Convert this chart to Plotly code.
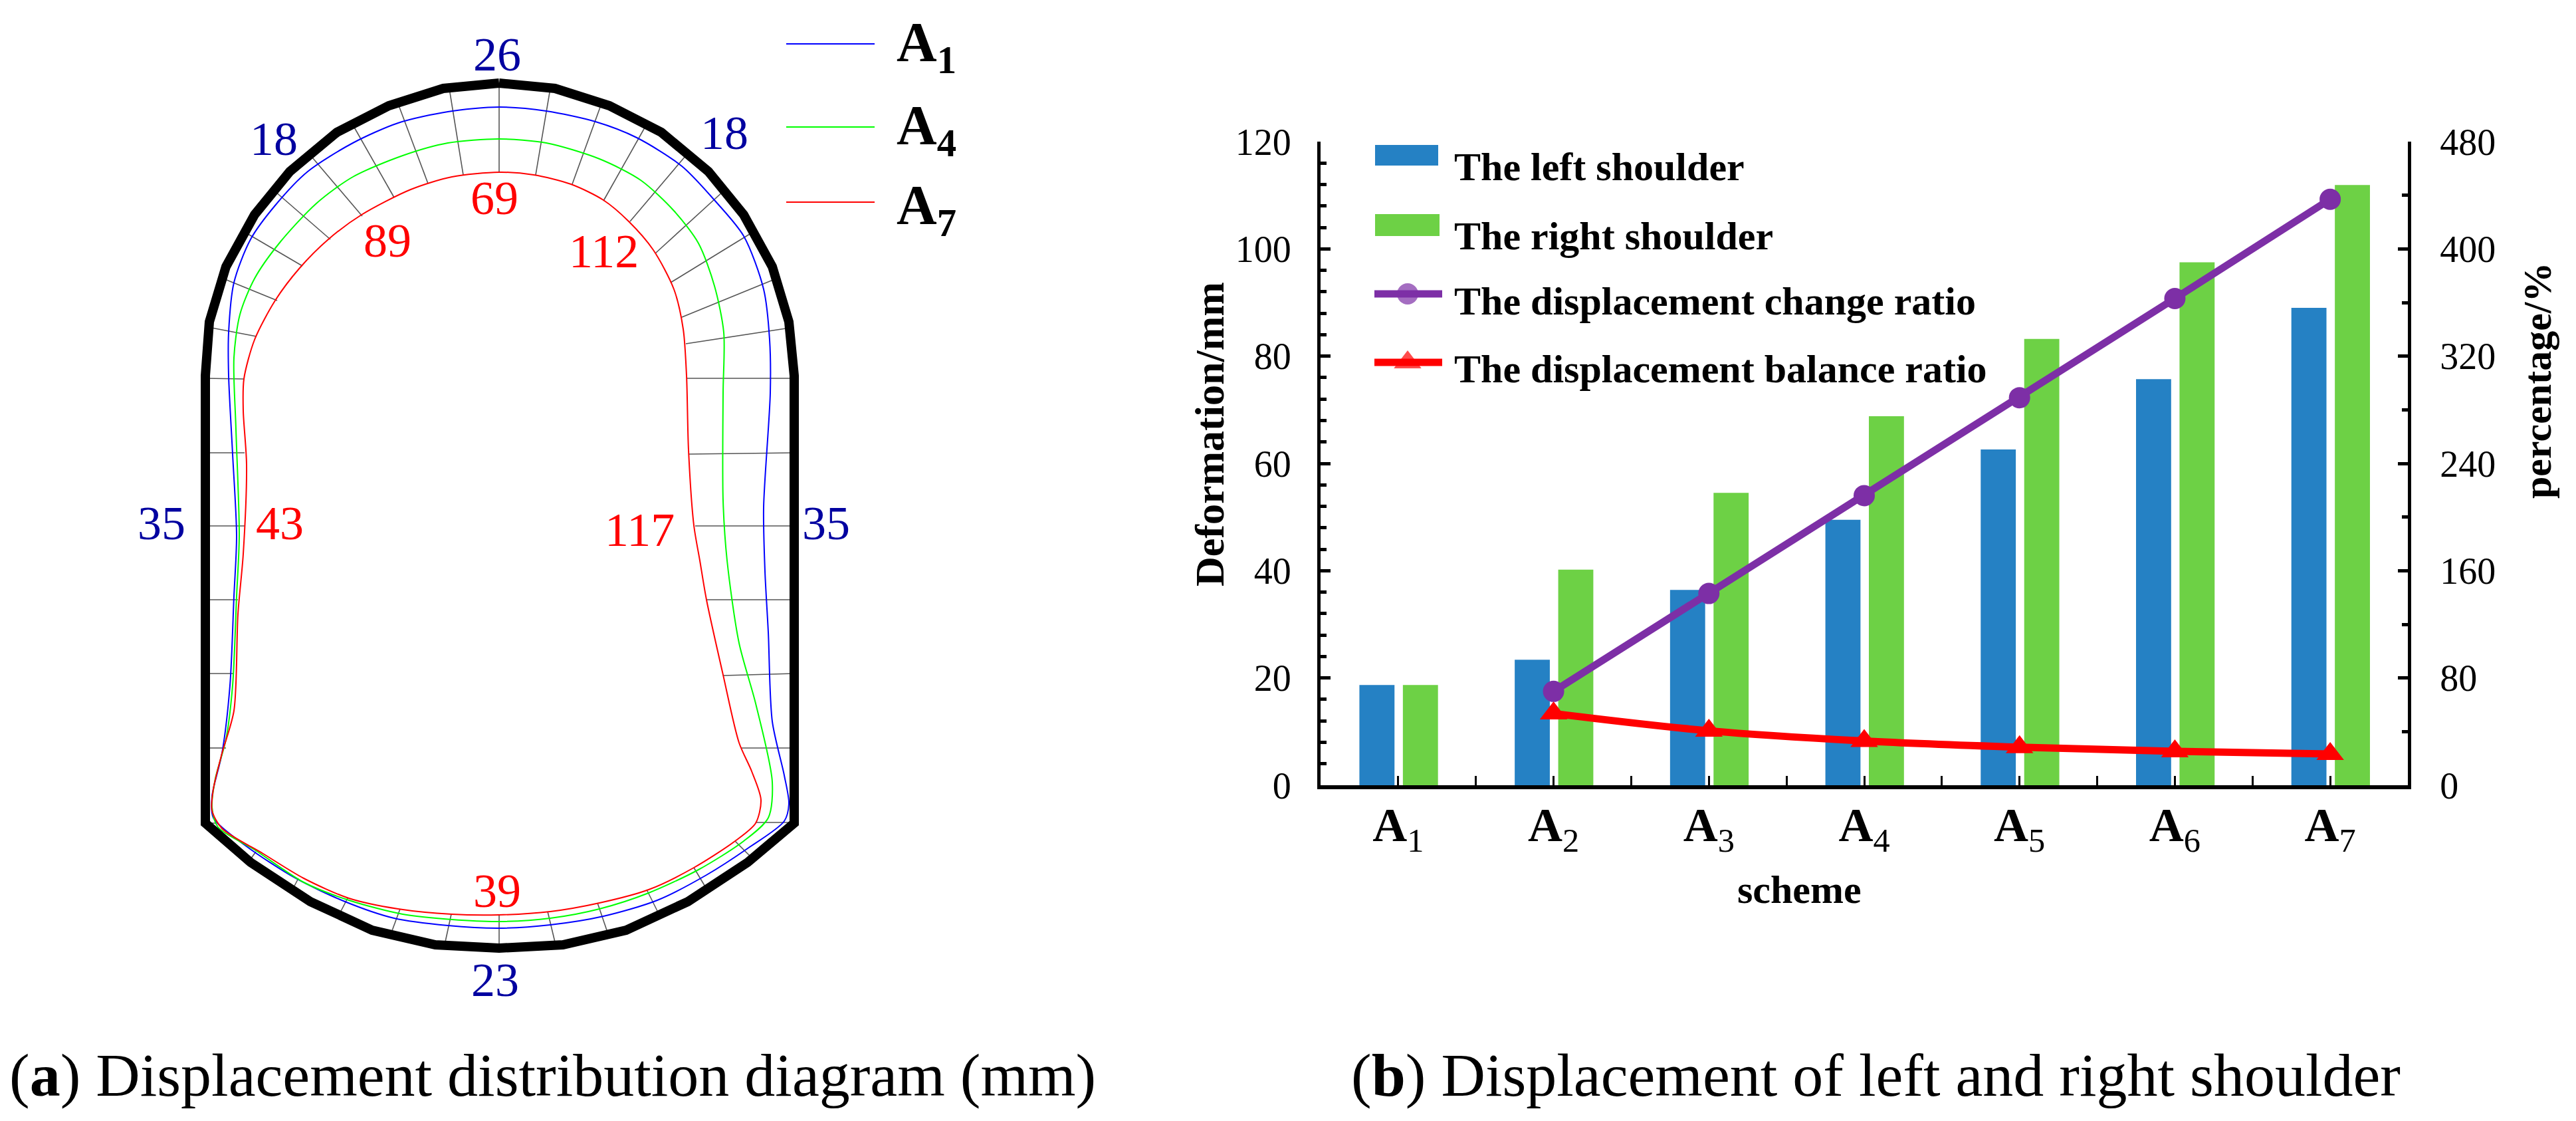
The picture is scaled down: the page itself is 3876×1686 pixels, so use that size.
import plotly.graph_objects as go

# ---------- panel (b) data ----------
schemes = ["1", "2", "3", "4", "5", "6", "7"]
left_shoulder = [18.7, 23.4, 36.4, 49.5, 62.6, 75.7, 89.0]
right_shoulder = [18.7, 40.2, 54.5, 68.8, 83.2, 97.5, 111.9]
change_ratio = [None, 70, 143, 216, 289, 363, 437]
balance_ratio = [None, 53.5, 40.6, 33.0, 28.4, 25.3, 23.3]

# ---------- panel (a) data: tunnel section ----------
outer_x = [751, 667, 585, 507, 436, 383, 340, 315, 309, 309, 377, 467, 560, 655, 751,
           847, 942, 1035, 1125, 1195, 1195, 1187, 1162, 1119, 1066, 995, 917, 835, 751]
outer_y = [125, 133, 159, 199, 258, 323, 401, 484, 565, 1238, 1297, 1356, 1399, 1421, 1426,
           1421, 1399, 1356, 1297, 1238, 565, 484, 401, 323, 258, 199, 159, 133, 125]

a1_x = [751, 674, 599, 531, 463, 414, 377, 352, 344, 344, 350, 356, 352, 346, 334, 319, 321, 371, 445, 519, 593, 674, 751,
        828, 908, 989, 1063, 1125, 1180, 1187, 1180, 1162, 1156, 1151, 1149, 1159, 1158, 1149, 1119, 1075, 1026, 958, 896, 822, 751]
a1_y = [161, 168, 185, 215, 258, 309, 360, 425, 500, 565, 683, 806, 897, 1031, 1133, 1198, 1230, 1273, 1321, 1356, 1381, 1392, 1396,
        1391, 1378, 1354, 1316, 1276, 1235, 1209, 1166, 1085, 951, 859, 763, 591, 511, 435, 355, 301, 250, 207, 183, 167, 161]

a4_x = [751, 674, 606, 531, 476, 420, 383, 361, 352, 355, 360, 356, 350, 340, 324, 319, 328, 383, 457, 525, 606, 680, 751,
        828, 902, 976, 1051, 1119, 1156, 1162, 1137, 1112, 1094, 1088, 1088, 1089, 1075, 1051, 1014, 964, 902, 822, 751]
a4_y = [209, 215, 234, 266, 306, 366, 419, 473, 538, 645, 806, 897, 1031, 1112, 1171, 1214, 1244, 1278, 1327, 1354, 1375, 1383, 1386,
        1381, 1367, 1343, 1308, 1265, 1230, 1176, 1058, 967, 843, 753, 591, 500, 430, 366, 317, 271, 239, 215, 209]

a7_x = [751, 680, 618, 544, 494, 451, 414, 383, 367, 366, 371, 366, 358, 352, 334, 321, 319, 334, 396, 457, 525, 599, 680, 751,
        828, 902, 976, 1044, 1106, 1137, 1145, 1131, 1112, 1088, 1063, 1053, 1044, 1036, 1033, 1028, 1014, 983, 946, 908, 859, 803, 751]
a7_y = [259, 266, 285, 323, 360, 403, 452, 511, 570, 618, 699, 833, 924, 1069, 1133, 1187, 1219, 1246, 1284, 1321, 1351, 1367, 1375, 1376,
        1371, 1358, 1338, 1305, 1265, 1238, 1203, 1160, 1117, 1015, 902, 843, 790, 677, 565, 495, 435, 376, 333, 301, 277, 263, 259]

spokes = [
    (751, 125, 751, 259), (676, 133, 697, 263), (599, 156, 644, 276), (531, 188, 593, 297),
    (470, 237, 545, 325), (414, 288, 497, 360), (368, 349, 455, 400), (336, 419, 417, 452),
    (313, 492, 386, 506), (309, 569, 368, 570), (309, 681, 368, 681), (309, 791, 368, 791),
    (309, 902, 358, 902), (309, 1013, 352, 1013), (309, 1125, 340, 1125), (309, 1238, 324, 1238),
    (377, 1292, 385, 1281), (439, 1340, 449, 1321), (510, 1376, 523, 1351), (588, 1405, 602, 1367),
    (669, 1421, 679, 1375), (751, 1426, 751, 1376), (836, 1421, 824, 1371), (915, 1405, 899, 1358),
    (992, 1376, 973, 1338), (1065, 1340, 1044, 1305), (1133, 1292, 1106, 1265), (1195, 1237, 1137, 1237),
    (1195, 1125, 1115, 1125), (1195, 1013, 1088, 1016), (1195, 902, 1063, 902), (1195, 791, 1046, 791),
    (1195, 681, 1036, 683), (1195, 569, 1033, 569), (1189, 493, 1032, 517), (1168, 419, 1026, 477),
    (1133, 349, 1009, 425), (1088, 288, 986, 381), (1032, 234, 948, 333), (974, 185, 908, 302),
    (906, 153, 861, 277), (828, 133, 806, 263),
]

blue_labels = [("26", 748, 82), ("18", 412, 209), ("18", 1090, 200), ("35", 243, 787), ("35", 1243, 787), ("23", 745, 1474)]
red_labels = [("69", 744, 298), ("89", 583, 362), ("112", 908, 378), ("43", 421, 787), ("117", 962, 797), ("39", 748, 1340)]

SERIF = "Liberation Serif"
W, H = 3876, 1686
BLUE_BAR, GREEN_BAR, PURPLE, RED = "#2581C4", "#6DD145", "#7D2FA6", "#FF0000"

fig = go.Figure()

# panel (a)
sx, sy = [], []
for x0, y0, x1, y1 in spokes:
    sx += [x0, x1, None]
    sy += [y0, y1, None]
fig.add_trace(go.Scatter(x=sx, y=sy, mode="lines", line=dict(color="#555555", width=1.6), showlegend=False, xaxis="x", yaxis="y"))
for name, xs, ys, col in [("A1", a1_x, a1_y, "#0000FF"), ("A4", a4_x, a4_y, "#00FF00"), ("A7", a7_x, a7_y, "#FF0000")]:
    fig.add_trace(go.Scatter(x=xs, y=ys, mode="lines", name=name, line=dict(color=col, width=2, shape="spline", smoothing=0.8),
                             showlegend=False, xaxis="x", yaxis="y"))
fig.add_trace(go.Scatter(x=outer_x, y=outer_y, mode="lines", line=dict(color="#000000", width=14), showlegend=False, xaxis="x", yaxis="y"))

# panel (a) key
for ky, col, sub, ty in [(66, "#0000FF", "1", 70), (191, "#00FF00", "4", 195), (304, "#FF0000", "7", 315)]:
    fig.add_trace(go.Scatter(x=[1183, 1316], y=[ky, ky], mode="lines", line=dict(color=col, width=2), showlegend=False, xaxis="x", yaxis="y"))
    fig.add_annotation(x=1347, y=ty, xref="x", yref="y", text=f"<b>A<sub>{sub}</sub></b>", showarrow=False,
                       xanchor="left", yanchor="middle", font=dict(family=SERIF, size=84, color="#000000"))

annotations_text = [(t, x, y, "#0000A0") for t, x, y in blue_labels] + [(t, x, y, "#FF0000") for t, x, y in red_labels]
for t, x, y, col in annotations_text:
    fig.add_annotation(x=x, y=y, xref="x", yref="y", text=t, showarrow=False, font=dict(family=SERIF, size=72, color=col))

# panel (b)
xs = list(range(len(schemes)))
fig.add_trace(go.Bar(x=xs, y=left_shoulder, name="The left shoulder", marker=dict(color=BLUE_BAR, line=dict(width=0)),
                     width=0.226, offset=-0.25, xaxis="x2", yaxis="y2", showlegend=False))
fig.add_trace(go.Bar(x=xs, y=right_shoulder, name="The right shoulder", marker=dict(color=GREEN_BAR, line=dict(width=0)),
                     width=0.226, offset=0.03, xaxis="x2", yaxis="y2", showlegend=False))
fig.add_trace(go.Scatter(x=xs, y=change_ratio, name="The displacement change ratio", mode="lines+markers",
                         line=dict(color=PURPLE, width=11), marker=dict(symbol="circle", size=32, color=PURPLE),
                         xaxis="x2", yaxis="y3", showlegend=False))
fig.add_trace(go.Scatter(x=xs, y=balance_ratio, name="The displacement balance ratio", mode="lines+markers",
                         line=dict(color=RED, width=11, shape="spline"), marker=dict(symbol="triangle-up", size=36, color=RED),
                         xaxis="x2", yaxis="y3", showlegend=False))

# panel (b) key
for (x0, x1, y0, y1, col) in [(2069, 2164, 218, 249, BLUE_BAR), (2069, 2166, 322, 355, GREEN_BAR)]:
    fig.add_shape(type="rect", xref="x", yref="y", x0=x0, x1=x1, y0=y0, y1=y1, fillcolor=col, line=dict(width=0), layer="above")
for ky, col, sym, ms in [(442, PURPLE, "circle", 32), (545, RED, "triangle-up", 36)]:
    fig.add_trace(go.Scatter(x=[2068, 2118, 2170], y=[ky] * 3, mode="lines+markers", line=dict(color=col, width=11),
                             marker=dict(symbol=sym, size=[0, ms, 0], color=col, line=dict(width=0)),
                             showlegend=False, xaxis="x", yaxis="y"))
for txt, ty in [("The left shoulder", 251), ("The right shoulder", 355), ("The displacement change ratio", 453), ("The displacement balance ratio", 555)]:
    fig.add_annotation(x=2186, y=ty, xref="x", yref="y", text=f"<b>{txt}</b>", showarrow=False, xanchor="left",
                       font=dict(family=SERIF, size=60, color="#000000"))

# axis titles
fig.add_annotation(x=2707, y=1338, xref="x", yref="y", text="<b>scheme</b>", showarrow=False, font=dict(family=SERIF, size=60, color="#000"))
fig.add_annotation(x=1820, y=653, xref="x", yref="y", text="<b>Deformation/mm</b>", textangle=-90, showarrow=False, font=dict(family=SERIF, size=62, color="#000"))
fig.add_annotation(x=3818, y=573, xref="x", yref="y", text="<b>percentage/%</b>", textangle=-90, showarrow=False, font=dict(family=SERIF, size=60, color="#000"))

# captions
fig.add_annotation(x=12, y=1617, xref="x", yref="y", text="(<b>a</b>) Displacement distribution diagram (mm)", showarrow=False, xanchor="left", font=dict(family=SERIF, size=92, color="#000"))
fig.add_annotation(x=2031, y=1617, xref="x", yref="y", text="(<b>b</b>) Displacement of left and right shoulder", showarrow=False, xanchor="left", font=dict(family=SERIF, size=92, color="#000"))

tickfont = dict(family=SERIF, size=56, color="#000000")
fig.update_layout(
    template="none",
    width=W, height=H, margin=dict(l=0, r=0, t=0, b=0, pad=0, autoexpand=False), paper_bgcolor="white", plot_bgcolor="rgba(0,0,0,0)",
    font=dict(family=SERIF), showlegend=False, barmode="overlay",
    xaxis=dict(domain=[0, 1], range=[0, W], visible=False, fixedrange=True, automargin=False),
    yaxis=dict(domain=[0, 1], range=[H, 0], visible=False, fixedrange=True, automargin=False),
    xaxis2=dict(domain=[1987 / W, 3623 / W], range=[-0.5, 6.5], anchor="y2", tickmode="array", tickvals=xs, automargin=False,
                ticktext=[f"<b>A</b><sub>{s}</sub>" for s in schemes], ticks="inside", ticklen=14, tickwidth=3, tickcolor="#000",
                ticklabelstandoff=-8,
                minor=dict(tickmode="array", tickvals=[0.5 + i for i in range(6)], ticks="inside", ticklen=14, tickwidth=3, tickcolor="#000"),
                showline=True, linecolor="#000", linewidth=6, showgrid=False, zeroline=False,
                tickfont=dict(family=SERIF, size=72, color="#000")),
    yaxis2=dict(domain=[1 - 1181 / H, 1 - 213 / H], range=[0, 120], anchor="x2", side="left", tick0=0, dtick=20, automargin=False,
                ticks="inside", ticklen=15, tickwidth=5, tickcolor="#000", ticklabelstandoff=28,
                minor=dict(tick0=0, dtick=4, ticks="inside", ticklen=9, tickwidth=5, tickcolor="#000"),
                showline=True, linecolor="#000", linewidth=5, showgrid=False, zeroline=False, tickfont=tickfont),
    yaxis3=dict(domain=[1 - 1181 / H, 1 - 213 / H], range=[0, 480], anchor="x2", overlaying="y2", side="right", tick0=0, dtick=80, automargin=False,
                ticks="inside", ticklen=15, tickwidth=5, tickcolor="#000", ticklabelstandoff=32,
                minor=dict(tick0=0, dtick=40, ticks="inside", ticklen=9, tickwidth=5, tickcolor="#000"),
                showline=True, linecolor="#000", linewidth=5, showgrid=False, zeroline=False, tickfont=tickfont),
)

fig.write_html("out.html", config=dict(displayModeBar=False), post_script="document.body.style.margin='0';document.documentElement.style.overflow='hidden';")
